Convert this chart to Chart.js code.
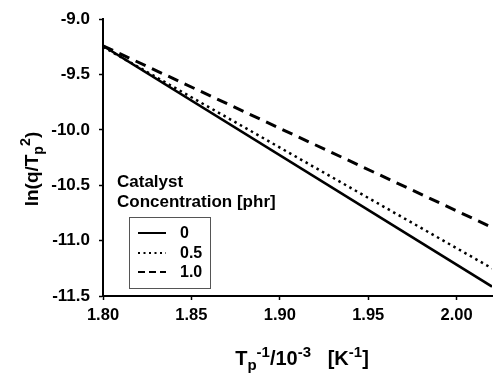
<!DOCTYPE html>
<html>
<head>
<meta charset="utf-8">
<script src="https://cdn.jsdelivr.net/npm/chart.js@4.4.0/dist/chart.umd.min.js"></script>
<style>
  body { margin: 0; background: #fff; }
  canvas { display: block; }
</style>
</head>
<body>
<canvas id="myChart" width="495" height="375"></canvas>
<script>
// data
const xValues = [1.80, 2.02];
const catalyst0 = [-9.24, -11.415];
const catalyst05 = [-9.25, -11.25];
const catalyst10 = [-9.24, -10.88];
const seriesLabels = ['0', '0.5', '1.0'];

const xTicks = [1.80, 1.85, 1.90, 1.95, 2.00];
const yTicks = [-11.5, -11.0, -10.5, -10.0, -9.5, -9.0];

const legendTitle = ['Catalyst', 'Concentration [phr]'];

const FONT = 'Arial, "Liberation Sans", sans-serif';

function toPoints(ys) {
  return ys.map((y, i) => ({ x: xValues[i], y: y }));
}

// draws text pieces with sub / superscripts, returns total width
function drawRich(ctx, parts, x, y, size, measureOnly) {
  let w = 0;
  parts.forEach(p => {
    const s = p.type ? size * 0.75 : size;
    ctx.font = 'bold ' + s + 'px ' + FONT;
    let dy = 0;
    if (p.type === 'sub') dy = size * 0.25;
    if (p.type === 'sup') dy = -size * 0.4;
    if (!measureOnly) ctx.fillText(p.t, x + w, y + dy);
    w += ctx.measureText(p.t).width;
  });
  return w;
}

const yTitle = [
  { t: 'ln(q/T' }, { t: 'p', type: 'sub' }, { t: '2', type: 'sup' }, { t: ')' }
];
const xTitle = [
  { t: 'T' }, { t: 'p', type: 'sub' }, { t: '-1', type: 'sup' }, { t: '/10' },
  { t: '-3', type: 'sup' }, { t: '   [K' }, { t: '-1', type: 'sup' }, { t: ']' }
];

const titlesAndLegend = {
  id: 'titlesAndLegend',
  afterDraw(chart) {
    const ctx = chart.ctx;
    const area = chart.chartArea;
    ctx.save();
    ctx.fillStyle = '#000';
    ctx.textBaseline = 'alphabetic';
    ctx.textAlign = 'left';

    // x axis title
    let w = drawRich(ctx, xTitle, 0, 0, 20, true);
    drawRich(ctx, xTitle, 302 - w / 2, 365, 20);

    // y axis title, rotated
    ctx.save();
    ctx.translate(38, 169);
    ctx.rotate(-Math.PI / 2);
    w = drawRich(ctx, yTitle, 0, 0, 19, true);
    drawRich(ctx, yTitle, -w / 2, 0, 19);
    ctx.restore();

    // legend title
    ctx.font = 'bold 17px ' + FONT;
    ctx.fillText(legendTitle[0], area.left + 14, 187);
    ctx.fillText(legendTitle[1], area.left + 14, 207);

    // legend box
    ctx.strokeStyle = '#555';
    ctx.lineWidth = 1;
    ctx.strokeRect(129.5, 217.5, 81, 71);

    const rowY = [233, 253, 272];
    chart.data.datasets.forEach((ds, i) => {
      ctx.beginPath();
      ctx.setLineDash(ds.legendDash);
      ctx.lineWidth = 2;
      ctx.strokeStyle = '#000';
      ctx.moveTo(138, rowY[i]);
      ctx.lineTo(166, rowY[i]);
      ctx.stroke();
      ctx.setLineDash([]);
      ctx.font = 'bold 16px ' + FONT;
      ctx.textBaseline = 'middle';
      ctx.fillText(ds.label, 180, rowY[i] + 1);
    });
    ctx.restore();
  }
};

const ctx = document.getElementById('myChart').getContext('2d');
const myChart = new Chart(ctx, {
  type: 'line',
  data: {
    datasets: [{
      label: seriesLabels[0],
      data: toPoints(catalyst0),
      borderColor: '#000',
      borderWidth: 2.5,
      legendDash: []
    }, {
      label: seriesLabels[1],
      data: toPoints(catalyst05),
      borderColor: '#000',
      borderWidth: 2.5,
      borderDash: [2.5, 3.8],
      legendDash: [2, 3.5]
    }, {
      label: seriesLabels[2],
      data: toPoints(catalyst10),
      borderColor: '#000',
      borderWidth: 3,
      borderDash: [11, 7],
      legendDash: [7, 4]
    }]
  },
  options: {
    responsive: false,
    devicePixelRatio: 1,
    animation: false,
    layout: { padding: { top: 16, right: 3, left: 0, bottom: 0 } },
    elements: { point: { radius: 0 }, line: { tension: 0, fill: false } },
    plugins: { legend: { display: false }, tooltip: { enabled: false } },
    scales: {
      x: {
        type: 'linear',
        min: 1.80,
        max: 2.02,
        afterFit: scale => { scale.height = 79; },
        afterBuildTicks: scale => { scale.ticks = xTicks.map(v => ({ value: v })); },
        ticks: {
          color: '#000',
          padding: 6,
          maxRotation: 0,
          font: { family: FONT, size: 16.5, weight: 'bold' },
          callback: v => v.toFixed(2)
        },
        grid: { drawOnChartArea: false, tickLength: 4, color: '#000', tickWidth: 1.5 },
        border: { color: '#000', width: 2 }
      },
      y: {
        type: 'linear',
        min: -11.5,
        max: -9.0,
        afterFit: scale => { scale.width = 103; },
        afterBuildTicks: scale => { scale.ticks = yTicks.map(v => ({ value: v })); },
        ticks: {
          color: '#000',
          padding: 9,
          font: { family: FONT, size: 17, weight: 'bold' },
          callback: v => v.toFixed(1)
        },
        grid: { drawOnChartArea: false, tickLength: 4, color: '#000', tickWidth: 1.5 },
        border: { color: '#000', width: 2 }
      }
    }
  },
  plugins: [titlesAndLegend]
});
</script>
</body>
</html>
